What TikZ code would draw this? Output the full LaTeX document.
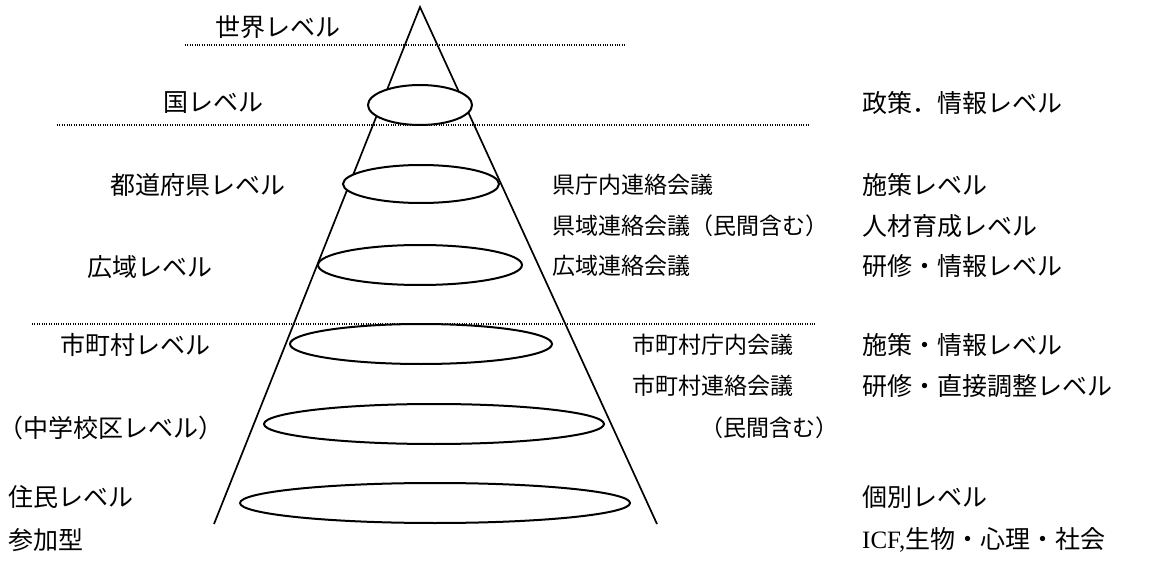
\documentclass[tikz,border=0pt]{standalone}
\usepackage{fontspec}
\setmainfont{Liberation Serif}
\newfontfamily\cjk{Noto Sans CJK JP}
\usetikzlibrary{shapes.geometric}
\begin{document}
\begin{tikzpicture}[x=1pt,y=-1pt,
  lbl/.style={anchor=west,inner sep=0pt,font=\cjk\fontsize{25pt}{29pt}\selectfont},
  mid/.style={lbl,font=\cjk\fontsize{23pt}{27pt}\selectfont},
  ring/.style={draw,ellipse,fill=white,line width=2pt,inner sep=0pt},
  dots/.style={line width=1.1pt,dash pattern=on 1pt off 1.4pt},
  cone/.style={line width=1.7pt,line join=miter}]
\useasboundingbox (0,0) rectangle (1160,564);
% dotted level lines
\coordinate (a1) at (185,45);  \coordinate (a2) at (625,45);
\coordinate (b1) at (57,125);  \coordinate (b2) at (809,125);
\coordinate (c1) at (32,324);  \coordinate (c2) at (815,324);
\draw[dots] (a1) -- (a2);
\draw[dots] (b1) -- (b2);
\draw[dots] (c1) -- (c2);
% cone
\coordinate (apex) at (420,7);
\coordinate (bl) at (214,524);
\coordinate (br) at (657,524);
\draw[cone] (bl) -- (apex) -- (br);
% ellipses
\node[ring,minimum width=104pt,minimum height=40pt] (e1) at (420,105) {};
\node[ring,minimum width=156pt,minimum height=38pt] (e2) at (421,184) {};
\node[ring,minimum width=204pt,minimum height=40pt] (e3) at (420,265) {};
\node[ring,minimum width=262pt,minimum height=40pt] (e4) at (421,344) {};
\node[ring,minimum width=340pt,minimum height=40pt] (e5) at (434,424) {};
\node[ring,minimum width=390pt,minimum height=40pt] (e6) at (435,503) {};
% left labels
\node[lbl] (w1) at (215,27) {世界レベル};
\node[lbl] (w2) at (163,103) {国レベル};
\node[lbl] (w3) at (110,185) {都道府県レベル};
\node[lbl] (w4) at (87,267) {広域レベル};
\node[lbl] (w5) at (60,345) {市町村レベル};
\node[lbl] (w6) at (-2,428) {（中学校区レベル）};
\node[lbl] (w7) at (8,497) {住民レベル};
\node[lbl] (w8) at (8,540) {参加型};
% middle labels
\node[mid] (m1) at (552,185) {県庁内連絡会議};
\node[mid] (m2) at (552,226) {県域連絡会議（民間含む）};
\node[mid] (m3) at (552,266) {広域連絡会議};
\node[mid] (m4) at (632,345) {市町村庁内会議};
\node[mid] (m5) at (632,386) {市町村連絡会議};
\node[mid] (m6) at (700,428) {（民間含む）};
% right labels
\node[lbl] (r1) at (862,103) {政策．情報レベル};
\node[lbl] (r2) at (862,185) {施策レベル};
\node[lbl] (r3) at (862,226) {人材育成レベル};
\node[lbl] (r4) at (862,266) {研修・情報レベル};
\node[lbl] (r5) at (862,345) {施策・情報レベル};
\node[lbl] (r6) at (862,386) {研修・直接調整レベル};
\node[lbl] (r7) at (862,497) {個別レベル};
\node[lbl] (r8) at (862,540) {{\rmfamily ICF,}生物・心理・社会};
\end{tikzpicture}
\end{document}
